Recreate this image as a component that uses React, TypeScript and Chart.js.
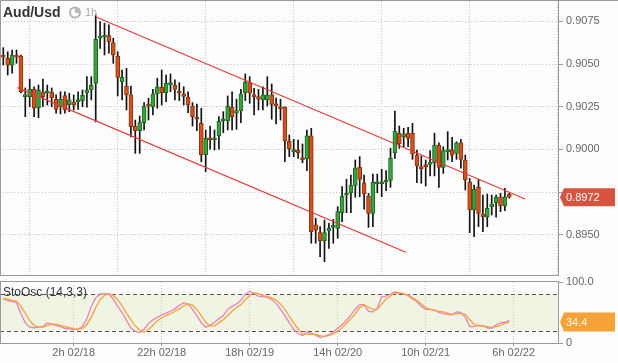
import React, { useEffect, useRef } from 'react';
import { Chart, registerables } from 'chart.js';

Chart.register(...registerables);

const FONT = '"Liberation Sans", Arial, Helvetica, sans-serif';

// ---- Candles (1h AUD/USD), index 0 = 10h 02/17 ----
const opens = [
  0.90547, 0.90534, 0.90494, 0.90553, 0.90547, 0.90309, 0.90309, 0.90352, 0.90244, 0.90336,
  0.90329, 0.90336, 0.90294, 0.90250, 0.90315, 0.90260, 0.90278, 0.90280, 0.90286, 0.90332,
  0.90348, 0.90387, 0.90651, 0.90657, 0.90666, 0.90625, 0.90547, 0.90397, 0.90371, 0.90319,
  0.90137, 0.90110, 0.90157, 0.90266, 0.90250, 0.90325, 0.90364, 0.90332, 0.90379, 0.90376,
  0.90336, 0.90325, 0.90305, 0.90254, 0.90188, 0.90153, 0.89969, 0.90067, 0.90057, 0.90081,
  0.90167, 0.90167, 0.90247, 0.90212, 0.90227, 0.90332, 0.90391, 0.90320, 0.90309, 0.90290,
  0.90290, 0.90319, 0.90266, 0.90247, 0.90247, 0.90049, 0.89987, 0.89997, 0.89952, 0.89944,
  0.90079, 0.89558, 0.89513, 0.89466, 0.89524, 0.89544, 0.89538, 0.89630, 0.89732, 0.89747,
  0.89790, 0.89895, 0.89805, 0.89727, 0.89626, 0.89799, 0.89799, 0.89808, 0.89819, 0.89981,
  0.90095, 0.90075, 0.90095, 0.90095, 0.89967, 0.89899, 0.89909, 0.89913, 0.89922, 0.90026,
  0.89895, 0.89987, 0.89997, 0.89977, 0.90039, 0.89938, 0.89811, 0.89646, 0.89778, 0.89622,
  0.89603, 0.89665, 0.89688, 0.89723, 0.89669, 0.89737,
];
const highs = [
  0.90596, 0.90572, 0.90582, 0.90582, 0.90553, 0.90360, 0.90412, 0.90366, 0.90377, 0.90412,
  0.90377, 0.90360, 0.90319, 0.90338, 0.90338, 0.90329, 0.90319, 0.90338, 0.90348, 0.90426,
  0.90426, 0.90787, 0.90748, 0.90739, 0.90729, 0.90651, 0.90572, 0.90465, 0.90475, 0.90371,
  0.90172, 0.90196, 0.90274, 0.90300, 0.90352, 0.90417, 0.90465, 0.90436, 0.90442, 0.90407,
  0.90391, 0.90367, 0.90338, 0.90274, 0.90266, 0.90241, 0.90114, 0.90137, 0.90114, 0.90192,
  0.90221, 0.90313, 0.90338, 0.90294, 0.90352, 0.90442, 0.90426, 0.90358, 0.90352, 0.90367,
  0.90426, 0.90383, 0.90300, 0.90294, 0.90250, 0.90085, 0.90059, 0.90055, 0.90032, 0.90114,
  0.90124, 0.89597, 0.89548, 0.89587, 0.89568, 0.89591, 0.89665, 0.89782, 0.89825, 0.89850,
  0.89938, 0.89958, 0.89850, 0.89743, 0.89856, 0.89856, 0.89884, 0.89876, 0.90007, 0.90225,
  0.90137, 0.90124, 0.90130, 0.90153, 0.89997, 0.89962, 0.89938, 0.89993, 0.90095, 0.90039,
  0.90016, 0.90104, 0.90071, 0.90045, 0.90059, 0.89967, 0.89831, 0.89792, 0.89825, 0.89733,
  0.89739, 0.89733, 0.89733, 0.89743, 0.89772, 0.89743,
];
const lows = [
  0.90494, 0.90436, 0.90446, 0.90504, 0.90331, 0.90192, 0.90250, 0.90192, 0.90186, 0.90250,
  0.90260, 0.90250, 0.90213, 0.90208, 0.90212, 0.90221, 0.90231, 0.90235, 0.90250, 0.90247,
  0.90290, 0.90161, 0.90592, 0.90553, 0.90563, 0.90504, 0.90313, 0.90290, 0.90231, 0.90073,
  0.89977, 0.89977, 0.90114, 0.90172, 0.90202, 0.90241, 0.90260, 0.90280, 0.90338, 0.90290,
  0.90286, 0.90260, 0.90215, 0.90137, 0.90110, 0.89928, 0.89870, 0.90001, 0.89997, 0.90001,
  0.90098, 0.90114, 0.90114, 0.90118, 0.90157, 0.90286, 0.90270, 0.90202, 0.90231, 0.90231,
  0.90254, 0.90177, 0.90149, 0.90172, 0.89928, 0.89958, 0.89958, 0.89948, 0.89922, 0.89876,
  0.89451, 0.89451, 0.89372, 0.89343, 0.89421, 0.89451, 0.89480, 0.89577, 0.89630, 0.89630,
  0.89720, 0.89723, 0.89650, 0.89544, 0.89548, 0.89747, 0.89723, 0.89758, 0.89778, 0.89948,
  0.90007, 0.90016, 0.90016, 0.89942, 0.89805, 0.89802, 0.89786, 0.89845, 0.89845, 0.89778,
  0.89860, 0.89938, 0.89928, 0.89942, 0.89890, 0.89763, 0.89513, 0.89489, 0.89548, 0.89518,
  0.89548, 0.89616, 0.89603, 0.89636, 0.89641, 0.89715,
];
const closes = [
  0.90540, 0.90494, 0.90553, 0.90540, 0.90338, 0.90319, 0.90352, 0.90241, 0.90346, 0.90309,
  0.90336, 0.90303, 0.90235, 0.90294, 0.90231, 0.90290, 0.90262, 0.90290, 0.90317, 0.90348,
  0.90377, 0.90645, 0.90664, 0.90664, 0.90631, 0.90553, 0.90422, 0.90422, 0.90319, 0.90133,
  0.90110, 0.90157, 0.90254, 0.90254, 0.90325, 0.90367, 0.90332, 0.90387, 0.90387, 0.90352,
  0.90329, 0.90311, 0.90262, 0.90192, 0.90177, 0.89969, 0.90065, 0.90057, 0.90067, 0.90165,
  0.90177, 0.90254, 0.90192, 0.90227, 0.90325, 0.90393, 0.90329, 0.90309, 0.90294, 0.90319,
  0.90319, 0.90264, 0.90256, 0.90239, 0.90051, 0.90004, 0.89997, 0.89981, 0.89940, 0.90079,
  0.89518, 0.89528, 0.89466, 0.89513, 0.89538, 0.89554, 0.89636, 0.89727, 0.89739, 0.89790,
  0.89891, 0.89825, 0.89739, 0.89626, 0.89808, 0.89808, 0.89808, 0.89819, 0.89948, 0.90108,
  0.90032, 0.90090, 0.90065, 0.89973, 0.89903, 0.89887, 0.89899, 0.89922, 0.90026, 0.89895,
  0.89993, 0.89997, 0.89967, 0.90039, 0.89942, 0.89821, 0.89646, 0.89767, 0.89626, 0.89606,
  0.89655, 0.89681, 0.89720, 0.89669, 0.89723, 0.89720,
];

// ---- Stochastic oscillator (14,3,3) ----
const stoK = [
  72, 70, 68, 66, 48, 33, 26, 25, 26, 27, 33, 31, 29, 27, 24, 23, 22, 23, 27, 40,
  60, 74, 80, 81, 80, 72, 60, 50, 37, 25, 19, 17, 23, 32, 38, 42, 46, 49, 52, 56,
  62, 66, 64, 55, 45, 33, 26, 29, 34, 40, 45, 55, 60, 64, 70, 80, 85, 81, 77, 76,
  75, 71, 65, 55, 45, 33, 22, 16, 12, 18, 16, 13, 9, 11, 14, 18, 24, 30, 37, 46,
  55, 63, 63, 52, 51, 57, 76, 77, 80, 84, 82, 80, 78, 72, 68, 60, 55, 55, 54, 50,
  48, 47, 46, 51, 50, 42, 27, 27, 29, 28, 25, 24, 30, 33, 34, 37,
];
const stoD = [
  73, 72, 70, 69, 60, 49, 37, 29, 26, 26, 29, 31, 31, 29, 27, 25, 23, 22, 24, 30,
  42, 58, 71, 78, 81, 78, 71, 61, 49, 38, 28, 21, 18, 22, 29, 36, 41, 45, 48, 52,
  56, 61, 64, 62, 55, 45, 34, 28, 28, 33, 38, 45, 52, 58, 63, 71, 78, 82, 81, 78,
  76, 74, 70, 64, 55, 44, 33, 23, 15, 14, 14, 14, 12, 11, 12, 15, 19, 25, 32, 40,
  48, 58, 62, 59, 55, 55, 64, 72, 77, 82, 82, 81, 79, 74, 70, 64, 58, 55, 54, 52,
  51, 49, 47, 48, 49, 47, 38, 31, 28, 28, 27, 25, 27, 29, 32, 34.4,
];

// ---- Channel trend lines (candle index, price) ----
const upperTrendX = [21.2, 118.6];
const upperTrendY = [0.90774, 0.8971];
const lowerTrendX = [3.2, 91.5];
const lowerTrendY = [0.90362, 0.89398];

// ---- Axes ----
const xTickIdx = [16, 36, 56, 76, 96, 116];
const xTickLabels = ['2h 02/18', '22h 02/18', '18h 02/19', '14h 02/20', '10h 02/21', '6h 02/22'];
const priceTicks = [0.895, 0.8975, 0.9, 0.9025, 0.905, 0.9075];
const priceMin = 0.89265;
const priceMax = 0.90869;
const xMin = -0.75;
const xMax = 126.07;
const stoTicks = [0, 100];
const stoTickLabels = ['0', '100.0'];
const stoUpper = 80;
const stoLower = 20;

const GRID = '#c4c4c4';
const FRAME = '#9a9a9a';
const LABEL = '#666';
const UP_FILL = '#37a33c';
const UP_EDGE = '#1d6a22';
const DOWN_FILL = '#d0521f';
const DOWN_EDGE = '#94320c';
const TREND = '#e23a3a';
const K_COLOR = '#ee7fbb';
const D_COLOR = '#f7a33a';
const PRICE_TAG = '#d5533f';
const STO_TAG = '#f6a236';
const BAND = '#f0f4e2';

function drawTag(ctx: CanvasRenderingContext2D, x0: number, cy: number, x1: number, h: number, color: string, text: string) {
  ctx.save();
  ctx.fillStyle = color;
  ctx.beginPath();
  ctx.moveTo(x0, cy);
  ctx.lineTo(x0 + 4, cy - h / 2);
  ctx.lineTo(x1, cy - h / 2);
  ctx.lineTo(x1, cy + h / 2);
  ctx.lineTo(x0 + 4, cy + h / 2);
  ctx.closePath();
  ctx.fill();
  ctx.fillStyle = '#fff';
  ctx.font = `11px ${FONT}`;
  ctx.textAlign = 'left';
  ctx.textBaseline = 'middle';
  ctx.fillText(text, x0 + 6, cy + 0.5);
  ctx.restore();
}

const mainDecor = {
  id: 'mainDecor',
  afterDraw(chart: any) {
    const { ctx, chartArea: a, scales } = chart;
    ctx.save();
    ctx.strokeStyle = FRAME;
    ctx.lineWidth = 1;
    ctx.beginPath();
    ctx.moveTo(0, a.top - 0.5);
    ctx.lineTo(chart.width, a.top - 0.5);
    ctx.moveTo(a.left + 0.5, a.top);
    ctx.lineTo(a.left + 0.5, a.bottom);
    ctx.moveTo(a.right + 0.5, 0);
    ctx.lineTo(a.right + 0.5, a.bottom + 1);
    ctx.moveTo(a.left, a.bottom + 0.5);
    ctx.lineTo(a.right + 1, a.bottom + 0.5);
    ctx.stroke();
    // clock icon
    const cx = 75, cyc = 12.5;
    ctx.fillStyle = '#b4b4b4';
    ctx.beginPath();
    ctx.arc(cx, cyc, 6, 0, Math.PI * 2);
    ctx.fill();
    ctx.fillStyle = '#fdfdfd';
    ctx.beginPath();
    ctx.arc(cx, cyc, 4, 0, Math.PI * 2);
    ctx.fill();
    ctx.fillStyle = '#b4b4b4';
    ctx.beginPath();
    ctx.moveTo(cx, cyc);
    ctx.arc(cx, cyc, 4, -Math.PI / 2, 0.2);
    ctx.closePath();
    ctx.fill();
    ctx.restore();
    const last = closes[closes.length - 1];
    const cy = scales.y.getPixelForValue(last);
    drawTag(ctx, a.right + 2, cy, chart.width - 3, 18, PRICE_TAG, last.toFixed(4));
  },
};

const stoDecor = {
  id: 'stoDecor',
  beforeDraw(chart: any) {
    const { ctx, chartArea: a, scales } = chart;
    const yU = scales.y.getPixelForValue(stoUpper);
    const yL = scales.y.getPixelForValue(stoLower);
    ctx.save();
    ctx.fillStyle = BAND;
    ctx.fillRect(a.left, yU, a.right - a.left, yL - yU);
    ctx.restore();
  },
  beforeDatasetsDraw(chart: any) {
    const { ctx, chartArea: a, scales } = chart;
    ctx.save();
    ctx.strokeStyle = '#555';
    ctx.lineWidth = 1;
    ctx.setLineDash([4, 3]);
    [stoUpper, stoLower].forEach((v) => {
      const y = Math.round(scales.y.getPixelForValue(v)) + 0.5;
      ctx.beginPath();
      ctx.moveTo(a.left, y);
      ctx.lineTo(a.right, y);
      ctx.stroke();
    });
    ctx.restore();
  },
  afterDraw(chart: any) {
    const { ctx, chartArea: a, scales } = chart;
    ctx.save();
    ctx.strokeStyle = FRAME;
    ctx.lineWidth = 1;
    ctx.beginPath();
    ctx.moveTo(a.left, a.top - 0.5);
    ctx.lineTo(a.right + 1, a.top - 0.5);
    ctx.moveTo(a.left + 0.5, a.top);
    ctx.lineTo(a.left + 0.5, a.bottom);
    ctx.moveTo(a.right + 0.5, a.top - 1);
    ctx.lineTo(a.right + 0.5, a.bottom + 1);
    ctx.moveTo(a.left, a.bottom + 0.5);
    ctx.lineTo(a.right + 1, a.bottom + 0.5);
    ctx.stroke();
    ctx.restore();
    const lastD = stoD[stoD.length - 1];
    const cy = scales.y.getPixelForValue(lastD);
    drawTag(ctx, a.right + 2, cy, chart.width - 3, 19, STO_TAG, lastD.toFixed(1));
  },
};

function mainConfig(): any {
  const lastClose = closes[closes.length - 1];
  return {
    type: 'bar',
    data: {
      datasets: [
        {
          type: 'line',
          data: upperTrendX.map((x, i) => ({ x, y: upperTrendY[i] })),
          borderColor: TREND,
          borderWidth: 1.2,
          pointRadius: 0,
          order: 0,
        },
        {
          type: 'line',
          data: lowerTrendX.map((x, i) => ({ x, y: lowerTrendY[i] })),
          borderColor: TREND,
          borderWidth: 1.2,
          pointRadius: 0,
          order: 0,
        },
        {
          type: 'bar',
          grouped: false,
          barThickness: 4,
          minBarLength: 2,
          borderSkipped: false,
          borderWidth: 1,
          data: opens.map((o, i) => ({ x: i, y: [o, closes[i]] })),
          backgroundColor: opens.map((o, i) => (closes[i] >= o ? UP_FILL : DOWN_FILL)),
          borderColor: opens.map((o, i) => (closes[i] >= o ? UP_EDGE : DOWN_EDGE)),
          order: 1,
        },
        {
          type: 'bar',
          grouped: false,
          barThickness: 1,
          borderWidth: 0,
          data: lows.map((l, i) => ({ x: i, y: [l, highs[i]] })),
          backgroundColor: '#111',
          order: 2,
        },
      ],
    },
    options: {
      animation: false,
      responsive: false,
      maintainAspectRatio: false,
      devicePixelRatio: 1,
      layout: { padding: { top: 1, bottom: 1, left: 0, right: 0 } },
      plugins: { legend: { display: false }, tooltip: { enabled: false } },
      scales: {
        x: {
          type: 'linear',
          min: xMin,
          max: xMax,
          offset: false,
          afterBuildTicks: (s: any) => { s.ticks = xTickIdx.map((v) => ({ value: v })); },
          afterFit: (s: any) => { s.height = 0; s.paddingLeft = 0; s.paddingRight = 0; },
          ticks: { display: false },
          grid: { color: GRID, drawTicks: false, lineWidth: 1 },
          border: { display: false, dash: [1, 2] },
        },
        y: {
          type: 'linear',
          position: 'right',
          min: priceMin,
          max: priceMax,
          afterBuildTicks: (s: any) => { s.ticks = priceTicks.map((v) => ({ value: v })); },
          afterFit: (s: any) => { s.width = 60; s.paddingTop = 0; s.paddingBottom = 0; },
          ticks: {
            color: LABEL,
            font: { family: FONT, size: 11 },
            padding: 3,
            callback: (v: number) => (Math.abs(v - lastClose) < 0.0006 ? '' : v.toFixed(4)),
          },
          grid: { color: GRID, tickLength: 5, tickColor: '#999', tickBorderDash: [] },
          border: { display: false, dash: [1, 2] },
        },
      },
    },
    plugins: [mainDecor],
  };
}

function stoConfig(): any {
  return {
    type: 'line',
    data: {
      datasets: [
        {
          data: stoD.map((v, i) => ({ x: i, y: v })),
          borderColor: D_COLOR,
          borderWidth: 1.3,
          pointRadius: 0,
          tension: 0,
        },
        {
          data: stoK.map((v, i) => ({ x: i, y: v })),
          borderColor: K_COLOR,
          borderWidth: 1.3,
          pointRadius: 0,
          tension: 0,
        },
      ],
    },
    options: {
      animation: false,
      responsive: false,
      maintainAspectRatio: false,
      devicePixelRatio: 1,
      layout: { padding: { top: 6, bottom: 0, left: 0, right: 0 } },
      plugins: { legend: { display: false }, tooltip: { enabled: false } },
      scales: {
        x: {
          type: 'linear',
          min: xMin,
          max: xMax,
          offset: false,
          afterBuildTicks: (s: any) => { s.ticks = xTickIdx.map((v) => ({ value: v })); },
          afterFit: (s: any) => { s.height = 20; s.paddingLeft = 0; s.paddingRight = 0; },
          ticks: {
            color: LABEL,
            font: { family: FONT, size: 11 },
            padding: 0,
            maxRotation: 0,
            autoSkip: false,
            callback: (_v: number, i: number) => xTickLabels[i],
          },
          grid: { color: GRID, tickLength: 3, tickColor: '#999', tickBorderDash: [] },
          border: { display: false, dash: [1, 2] },
        },
        y: {
          type: 'linear',
          position: 'right',
          min: 0,
          max: 100,
          afterBuildTicks: (s: any) => { s.ticks = stoTicks.map((v) => ({ value: v })); },
          afterFit: (s: any) => { s.width = 60; s.paddingTop = 0; s.paddingBottom = 0; },
          ticks: {
            color: LABEL,
            font: { family: FONT, size: 11 },
            padding: 3,
            callback: (_v: number, i: number) => stoTickLabels[i],
          },
          grid: { drawOnChartArea: false, tickLength: 5, tickColor: '#999', tickBorderDash: [] },
          border: { display: false },
        },
      },
    },
    plugins: [stoDecor],
  };
}

export default function App() {
  const mainRef = useRef<HTMLCanvasElement>(null);
  const stoRef = useRef<HTMLCanvasElement>(null);

  useEffect(() => {
    const mainChart = new Chart(mainRef.current as HTMLCanvasElement, mainConfig());
    const stoChart = new Chart(stoRef.current as HTMLCanvasElement, stoConfig());
    return () => {
      mainChart.destroy();
      stoChart.destroy();
    };
  }, []);

  return (
    <div
      style={{
        position: 'fixed',
        left: 0,
        top: 0,
        width: 618,
        height: 363,
        background: '#fdfdfd',
        overflow: 'hidden',
      }}
    >
      <canvas
        ref={mainRef}
        width={618}
        height={276}
        style={{ position: 'absolute', left: 0, top: 0, width: 618, height: 276 }}
      />
      <canvas
        ref={stoRef}
        width={618}
        height={87}
        style={{ position: 'absolute', left: 0, top: 276, width: 618, height: 87 }}
      />
      <div
        style={{
          position: 'absolute',
          left: 3,
          top: 4,
          font: `bold 14px ${FONT}`,
          lineHeight: '16px',
          color: '#333',
          whiteSpace: 'nowrap',
        }}
      >
        Aud/Usd
      </div>
      <div
        style={{
          position: 'absolute',
          left: 85,
          top: 6,
          font: `11px ${FONT}`,
          lineHeight: '13px',
          color: '#aaa',
          whiteSpace: 'nowrap',
        }}
      >
        1h
      </div>
      <div
        style={{
          position: 'absolute',
          left: 3,
          top: 285,
          font: `12px ${FONT}`,
          lineHeight: '14px',
          color: '#333',
          whiteSpace: 'nowrap',
        }}
      >
        StoOsc (14,3,3)
      </div>
    </div>
  );
}
